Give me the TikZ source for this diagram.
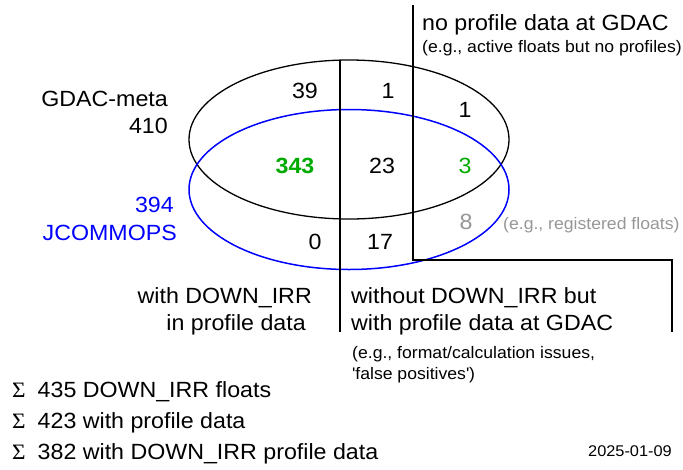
\documentclass[tikz,border=0pt]{standalone}
\usepackage{fontspec}
\setmainfont{Liberation Sans}[FakeStretch=1.055]
\newfontfamily\sigmafont{Liberation Serif}[FakeStretch=1.055]
\definecolor{countgreen}{RGB}{0,170,0}
\definecolor{notegray}{RGB}{150,150,150}
\newcommand*\bigsize{\fontsize{22}{26}\selectfont}
\newcommand*\smallsize{\fontsize{16.7}{20}\selectfont}
\newcommand*\sumsign{{\sigmafont Σ}\hspace{12pt}}
\tikzset{
    heading/.style={font=\bigsize, inner sep=0pt},
    remark/.style={font=\smallsize, inner sep=0pt},
    tally/.style={font=\bigsize, inner sep=0pt, anchor=base},
    divider/.style={line width=1.3pt}
}

\begin{document}
\begin{tikzpicture}[y=-1pt,x=1pt]
    \useasboundingbox (0,0) rectangle (683,469);

    % The two sets: GDAC-meta (black) and JCOMMOPS (blue).
    \draw[line width=1.3pt] (349,139.5) ellipse [x radius=160, y radius=79.5];
    \draw[line width=1.5pt, blue] (349,189.5) ellipse [x radius=160, y radius=80];

    % Draw the dividers.
    \coordinate (midtop) at (340,60);
    \coordinate (midbot) at (340,332);
    \coordinate (righttop) at (413,5);
    \coordinate (rightknee) at (413,260);
    \coordinate (farknee) at (672,260);
    \coordinate (farbot) at (672,332);
    \draw[divider] (midtop) -- (midbot);
    \draw[divider] (righttop) -- (rightknee) -- (farknee) -- (farbot);

    % Set names.
    \node[heading, anchor=base east] (gdac) at (168,106) {GDAC-meta};
    \node[heading, anchor=base east] (gdacsum) at (168,133) {410};
    \node[heading, anchor=base east, text=blue] (jcsum) at (174,212) {394};
    \node[heading, anchor=base east, text=blue] (jc) at (177,240) {JCOMMOPS};

    % Counts in each region.
    \foreach \x/\y/\n in {305/98/39, 388/98/1, 465/117/1, 382/173/23, 315/249/0, 380/249/17}
        \node[tally] (c-\x-\y) at (\x,\y) {\n};
    \node[tally, text=countgreen, font=\bigsize\bfseries] (both) at (295,173) {343};
    \node[tally, text=countgreen] (nodatajc) at (465,173) {3};
    \node[tally, text=notegray] (regonly) at (466,229) {8};
    \node[remark, anchor=base west, text=notegray] (regnote) at (503,229) {(e.g., registered floats)};

    % Column headings.
    \node[heading, anchor=base west] (nodata) at (422,30) {no profile data at GDAC};
    \node[remark, anchor=base west] (nodatanote) at (422,52) {(e.g., active floats but no profiles)};
    \node[heading, anchor=base east] (withirr) at (312,303) {with DOWN\_IRR};
    \node[heading, anchor=base east] (withirr2) at (306,330) {in profile data};
    \node[heading, anchor=base west] (noirr) at (351,303) {without DOWN\_IRR but};
    \node[heading, anchor=base west] (noirr2) at (351,330) {with profile data at GDAC};
    \node[remark, anchor=base west] (noirrnote) at (352,358) {(e.g., format/calculation issues,};
    \node[remark, anchor=base west] (noirrnote2) at (352,379) {\textquotesingle false positives\textquotesingle)};

    % Totals.
    \foreach \y/\txt in {397/435 DOWN\_IRR floats, 428/423 with profile data, 459/382 with DOWN\_IRR profile data}
        \node[heading, anchor=base west] (sum\y) at (12,\y) {\sumsign\txt};
    \node[font=\fontsize{15.5}{18}\selectfont, inner sep=0pt, anchor=base east] (date) at (672,456) {2025-01-09};

\end{tikzpicture}
\end{document}
